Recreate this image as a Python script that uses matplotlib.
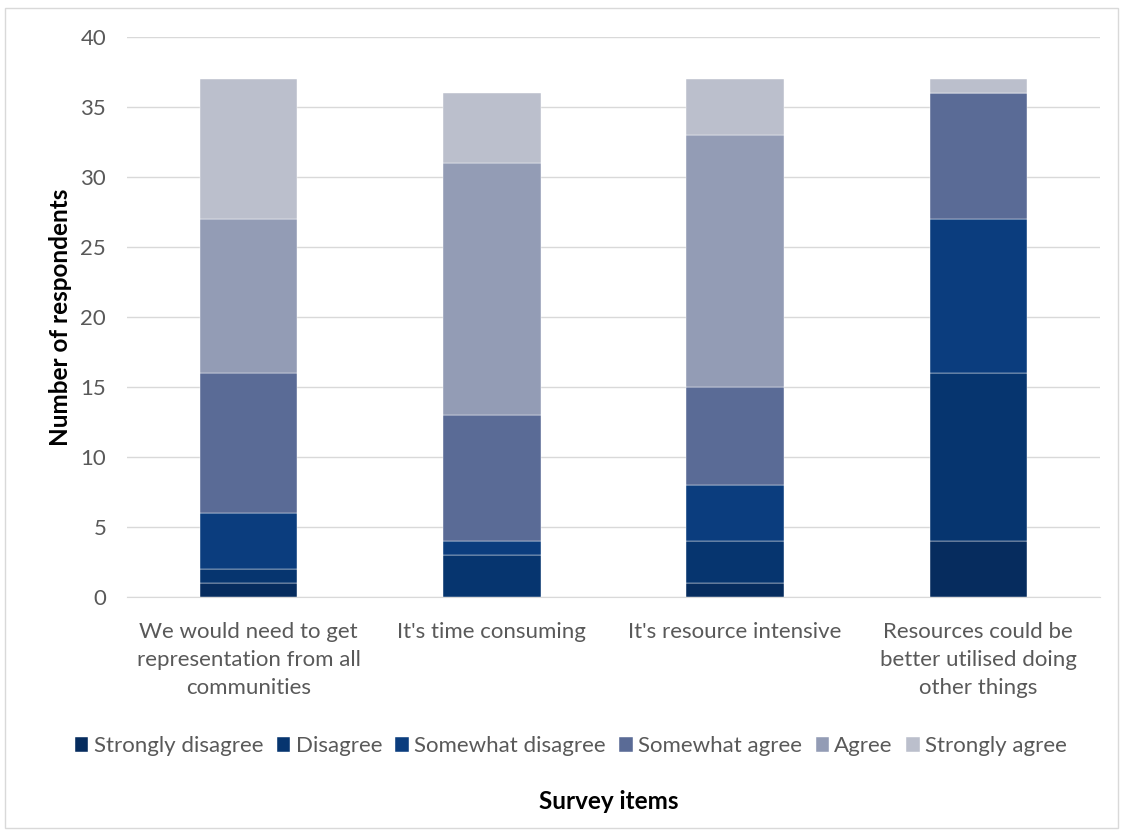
import matplotlib
matplotlib.use("Agg")
import matplotlib.pyplot as plt
from matplotlib.patches import Rectangle
import numpy as np

categories = [
    "We would need to get\nrepresentation from all\ncommunities",
    "It's time consuming",
    "It's resource intensive",
    "Resources could be\nbetter utilised doing\nother things",
]
series_names = ["Strongly disagree", "Disagree", "Somewhat disagree",
                "Somewhat agree", "Agree", "Strongly agree"]
strongly_disagree = [1, 0, 1, 4]
disagree = [1, 3, 3, 12]
somewhat_disagree = [4, 1, 4, 11]
somewhat_agree = [10, 9, 7, 9]
agree = [11, 18, 18, 0]
strongly_agree = [10, 5, 4, 1]
y_ticks = [0, 5, 10, 15, 20, 25, 30, 35, 40]

series = [strongly_disagree, disagree, somewhat_disagree,
          somewhat_agree, agree, strongly_agree]
colors = ["#062C5E", "#06356F", "#0B3D7E", "#5A6B96", "#939CB5", "#BBBFCC"]

plt.rcParams["font.family"] = ["Lato", "DejaVu Sans"]

fig = plt.figure(figsize=(11.24, 8.32), dpi=100)
fig.patches.append(Rectangle((5 / 1124, 4 / 832), 1113 / 1124, 820 / 832,
                             transform=fig.transFigure, fill=False,
                             edgecolor="#D9D9D9", linewidth=1))
ax = fig.add_axes([0.113, 0.2825, 0.8656, 0.673])

x = np.arange(len(categories))
bottom = np.zeros(len(categories))
handles = []
for name, vals, col in zip(series_names, series, colors):
    vals = np.array(vals, dtype=float)
    b = ax.bar(x, vals, bottom=bottom, width=0.4, color=col,
               edgecolor="#FFFFFF", linewidth=0.3, label=name, zorder=3)
    handles.append(b)
    bottom += vals

ax.set_xlim(-0.5, len(categories) - 0.5)
ax.set_ylim(0, 40)
ax.set_yticks(y_ticks)
ax.yaxis.grid(True, color="#D9D9D9", linewidth=1, zorder=0)
ax.set_axisbelow(True)
for s in ["top", "right", "left"]:
    ax.spines[s].set_visible(False)
ax.spines["bottom"].set_color("#D9D9D9")
ax.tick_params(axis="both", length=0, colors="#595959", labelsize=16)
ax.tick_params(axis="y", pad=15)
ax.tick_params(axis="x", pad=18)
ax.set_xticks(x)
ax.set_xticklabels(categories, linespacing=1.5)
ax.set_ylabel("Number of respondents", fontsize=17.5, fontweight="bold",
              color="black", labelpad=6)

fig.text(0.542, 0.037, "Survey items", ha="center", va="center",
         fontsize=17.5, fontweight="bold", color="black")

fig.legend(handles=handles, labels=series_names, loc="center",
           bbox_to_anchor=(0.508, 0.103), ncol=6, frameon=False,
           fontsize=16, handlelength=0.6, handleheight=0.6,
           handletextpad=0.25, columnspacing=0.6, labelcolor="#595959")

fig.savefig("out.png", dpi=100)
